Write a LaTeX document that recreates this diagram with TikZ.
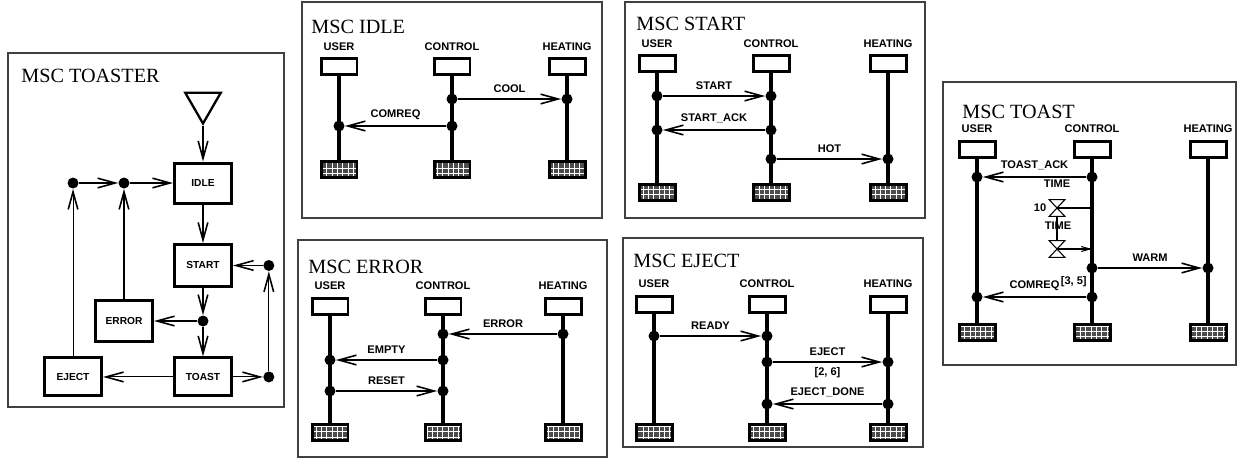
\documentclass[tikz,border=0pt]{standalone}
\usepackage{fontspec}
\setmainfont{Liberation Serif}
\setsansfont{Liberation Sans}
\usepackage{tikz}
\usetikzlibrary{positioning, arrows.meta, patterns, shapes.geometric}
\def\lblfont{\fontsize{6.3}{7}\selectfont\sffamily\bfseries}
\def\boxfont{\fontsize{5.8}{7}\selectfont\sffamily\bfseries}

\begin{document}
\begin{tikzpicture}[
  x=0.02cm, y=-0.02cm,
  panel/.style={draw=black!75, line width=0.7pt},
  title/.style={anchor=base west, inner sep=0, font=\fontsize{11.5}{13}\selectfont},
  inst/.style={draw, line width=1.7pt, minimum width=0.72cm, minimum height=0.32cm, inner sep=0},
  stopbox/.style={draw, line width=1.7pt, preaction={fill=black!70}, pattern=grid, pattern color=white, minimum width=0.72cm, minimum height=0.32cm, inner sep=0},
  instname/.style={font=\lblfont, inner sep=0},
  life/.style={line width=1.9pt},
  ev/.style={circle, fill, inner sep=0, minimum size=0.22cm},
  msg/.style={line width=0.6pt, -{Straight Barb[length=10pt,width=5.5pt,line width=0.9pt]}},
  lab/.style={font=\lblfont, inner sep=0, midway, above=3.5pt},
  lbl/.style={font=\lblfont, inner sep=0},
  timer/.style={minimum width=0.3cm, minimum height=0.32cm, inner sep=0},
  statebox/.style={draw, line width=1.7pt, minimum width=1.14cm, minimum height=0.8cm, inner sep=0, font=\boxfont},
  flow/.style={line width=0.6pt, -{Straight Barb[length=10pt,width=5.5pt,line width=0.9pt]}},
]
  \useasboundingbox (0,0) rectangle (1239,458);

  % Frames and titles
  \draw [panel] (8,53) rectangle (284,407);
  \draw [panel] (302,2) rectangle (602,218);
  \draw [panel] (625,2) rectangle (925,218);
  \draw [panel] (298,240) rectangle (607,457);
  \draw [panel] (623,238) rectangle (923,447);
  \draw [panel] (943,82) rectangle (1236,365);
  \node (toastertitle) [title] at (21,82) {MSC TOASTER};
  \node (idletitle) [title] at (311,33) {MSC IDLE};
  \node (starttitle) [title] at (636,30) {MSC START};
  \node (errortitle) [title] at (308,273) {MSC ERROR};
  \node (ejecttitle) [title] at (633,267) {MSC EJECT};
  \node (toasttitle) [title] at (962,118) {MSC TOAST};

  % Instances of every MSC: head, lifeline, stop
  \foreach \p/\xu/\xc/\xh/\hy/\ey in {idle/339/452/567/66.5/169, start/657/771/888/63.5/192.5,
      error/330/443/563/306/432, eject/654/767/888/304/432.5, toast/977/1092/1208/149/332} {
    \foreach \q/\x/\nm in {user/\xu/USER, control/\xc/CONTROL, heating/\xh/HEATING} {
      \node (\p\q) [inst] at (\x,\hy) {};
      \node (\p\q name) [instname, above=3.5pt of \p\q] {\nm};
      \node (\p\q stop) [stopbox] at (\x,\ey) {};
      \draw [life] (\p\q) -- (\p\q stop);
    }
  }

  % MSC IDLE
  \node (icool1) [ev] at (idlecontrol |- 0,99) {};
  \node (icool2) [ev] at (idleheating |- 0,99) {};
  \node (icomreq1) [ev] at (idlecontrol |- 0,126) {};
  \node (icomreq2) [ev] at (idleuser |- 0,126) {};
  \draw [msg] (icool1) -- (icool2) node [lab] {COOL};
  \draw [msg] (icomreq1) -- (icomreq2) node [lab] {COMREQ};

  % MSC START
  \node (sstart1) [ev] at (startuser |- 0,96) {};
  \node (sstart2) [ev] at (startcontrol |- 0,96) {};
  \node (sack1) [ev] at (startcontrol |- 0,130) {};
  \node (sack2) [ev] at (startuser |- 0,130) {};
  \node (shot1) [ev] at (startcontrol |- 0,159) {};
  \node (shot2) [ev] at (startheating |- 0,159) {};
  \draw [msg] (sstart1) -- (sstart2) node [lab] {START};
  \draw [msg] (sack1) -- (sack2) node [lab] {START\_ACK};
  \draw [msg] (shot1) -- (shot2) node [lab] {HOT};

  % MSC ERROR
  \node (rerror1) [ev] at (errorheating |- 0,334) {};
  \node (rerror2) [ev] at (errorcontrol |- 0,334) {};
  \node (rempty1) [ev] at (errorcontrol |- 0,360) {};
  \node (rempty2) [ev] at (erroruser |- 0,360) {};
  \node (rreset1) [ev] at (erroruser |- 0,391) {};
  \node (rreset2) [ev] at (errorcontrol |- 0,391) {};
  \draw [msg] (rerror1) -- (rerror2) node [lab] {ERROR};
  \draw [msg] (rempty1) -- (rempty2) node [lab] {EMPTY};
  \draw [msg] (rreset1) -- (rreset2) node [lab] {RESET};

  % MSC EJECT
  \node (jready1) [ev] at (ejectuser |- 0,336) {};
  \node (jready2) [ev] at (ejectcontrol |- 0,336) {};
  \node (jeject1) [ev] at (ejectcontrol |- 0,362) {};
  \node (jeject2) [ev] at (ejectheating |- 0,362) {};
  \node (jdone1) [ev] at (ejectheating |- 0,404) {};
  \node (jdone2) [ev] at (ejectcontrol |- 0,404) {};
  \draw [msg] (jready1) -- (jready2) node [lab] {READY};
  \draw [msg] (jeject1) -- (jeject2) node [lab] {EJECT} node [lab, below=3pt] {[2, 6]};
  \draw [msg] (jdone1) -- (jdone2) node [lab] {EJECT\_DONE};

  % MSC TOAST
  \node (tack1) [ev] at (toastcontrol |- 0,177) {};
  \node (tack2) [ev] at (toastuser |- 0,177) {};
  \node (twarm1) [ev] at (toastcontrol |- 0,268) {};
  \node (twarm2) [ev] at (toastheating |- 0,268) {};
  \node (tcomreq1) [ev] at (toastcontrol |- 0,297) {};
  \node (tcomreq2) [ev] at (toastuser |- 0,297) {};
  \draw [msg] (tack1) -- (tack2) node [lab] {TOAST\_ACK};
  \draw [msg] (twarm1) -- (twarm2) node [lab] {WARM};
  \draw [msg] (tcomreq1) -- (tcomreq2) node [lab] {COMREQ} node [lab, pos=0.12, above=5.5pt] {[3, 5]};

  % timer set and timeout
  \node (tone) [timer] at (1057,208) {};
  \node (ttwo) [timer] at (1057,249) {};
  \foreach \t in {tone, ttwo}
    \draw [line width=0.6pt] (\t.north west) -- (\t.north east) -- (\t.south west) -- (\t.south east) -- cycle;
  \coordinate (toneend) at (tone -| toastcontrol);
  \coordinate (ttwoend) at (ttwo -| toastcontrol);
  \draw [line width=0.6pt] (tone.center) -- (toneend);
  \draw [line width=0.6pt] (tone.south) -- (ttwo.north);
  \draw [line width=0.6pt, -{Straight Barb[length=5pt,width=2.8pt]}] (ttwo.center) -- (ttwoend);
  \node (time1) [lbl] at (1057,184) {TIME};
  \node (time2) [lbl] at (1058,226) {TIME};
  \node (ten) [lbl, left=1.5pt of tone] {10};

  % MSC TOASTER
  \node (init) [draw, regular polygon, regular polygon sides=3, shape border rotate=180, minimum size=0.82cm, inner sep=0, line width=1.3pt] at (203,103) {};
  \node (idle) [statebox] at (203,183) {IDLE};
  \node (start) [statebox, minimum height=0.84cm, below=0.77cm of idle] {START};
  \node (toast) [statebox, minimum height=0.76cm, below=1.37cm of start] {TOAST};
  \node (eject) [statebox, minimum height=0.76cm, left=1.4cm of toast] {EJECT};
  \node (error) [statebox, minimum height=0.82cm] at (124,321) {ERROR};

  \node (fork1) [ev] at (eject |- idle) {};
  \node (fork2) [ev] at (error |- idle) {};
  \node (fork3) [ev] at (start |- error) {};
  \node (fork4) [ev, right=0.6cm of toast] {};
  \node (fork5) [ev] at (fork4 |- start) {};

  \draw [flow] (init.corner 1) -- (idle);
  \draw [flow] (idle) -- (start);
  \draw [flow] (start) -- (fork3);
  \draw [flow] (fork3) -- (error);
  \draw [flow] (fork3) -- (toast);
  \draw [flow] (toast) -- (fork4);
  \draw [flow] (fork4) -- (fork5);
  \draw [flow] (fork5) -- (start);
  \draw [flow] (toast) -- (eject);
  \draw [flow] (eject) -- (fork1);
  \draw [flow] (error) -- (fork2);
  \draw [flow] (fork1) -- (fork2);
  \draw [flow] (fork2) -- (idle);

\end{tikzpicture}
\end{document}
